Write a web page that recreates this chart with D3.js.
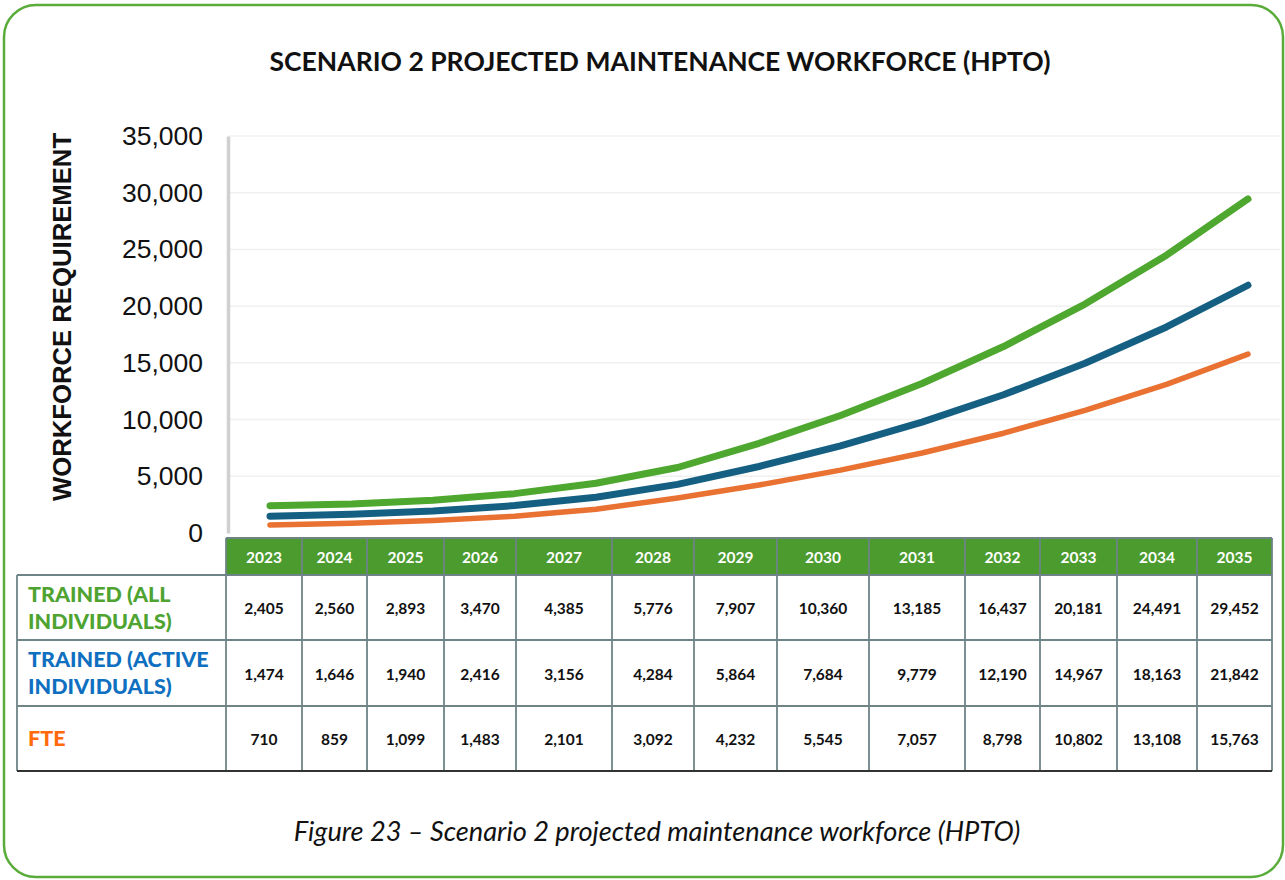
<!DOCTYPE html>
<html>
<head>
<meta charset="utf-8">
<script src="https://cdn.jsdelivr.net/npm/d3@7"></script>
<style>
  html, body { margin: 0; padding: 0; background: #fff; }
  svg { display: block; }
</style>
</head>
<body>
<div id="chart"></div>
<script>
// data
const years = [2023, 2024, 2025, 2026, 2027, 2028, 2029, 2030, 2031, 2032, 2033, 2034, 2035];
const trainedAll = [2405, 2560, 2893, 3470, 4385, 5776, 7907, 10360, 13185, 16437, 20181, 24491, 29452];
const trainedActive = [1474, 1646, 1940, 2416, 3156, 4284, 5864, 7684, 9779, 12190, 14967, 18163, 21842];
const fte = [710, 859, 1099, 1483, 2101, 3092, 4232, 5545, 7057, 8798, 10802, 13108, 15763];
const seriesNames = [["TRAINED (ALL", "INDIVIDUALS)"], ["TRAINED (ACTIVE", "INDIVIDUALS)"], ["FTE"]];
const yTicks = [0, 5000, 10000, 15000, 20000, 25000, 30000, 35000];

const width = 1285, height = 880;
const lineColors = ['#4ea72e', '#156082', '#e97132'];
const labelColors = ['#4ea331', '#0f6fc0', '#ff6a0d'];
const lineWidths = [7, 7, 5.5];

// table column edges (layout, from the picture)
const colEdges = [226, 302, 367, 444, 516, 612, 694, 777, 869, 965, 1040, 1117, 1197, 1272];
const rowEdges = [538, 575, 640, 706, 771];
const tableLeft = 17;

const svg = d3.select('#chart')
  .append('svg')
  .attr('width', width)
  .attr('height', height);

// frame
svg.append('rect')
  .attr('x', 4).attr('y', 5)
  .attr('width', 1279).attr('height', 872)
  .attr('rx', 32)
  .attr('fill', '#fff')
  .attr('stroke', '#5aac3a')
  .attr('stroke-width', 2.5);

// title
svg.append('text')
  .attr('x', 660).attr('y', 71)
  .attr('text-anchor', 'middle')
  .attr('font-family', 'Lato, sans-serif')
  .attr('font-weight', 'bold')
  .attr('font-size', '26.5px')
  .attr('fill', '#111')
  .text('SCENARIO 2 PROJECTED MAINTENANCE WORKFORCE (HPTO)');

const x = d3.scalePoint()
  .domain(years)
  .range([270, 1248]);

const y = d3.scaleLinear()
  .domain([0, 35000])
  .range([533, 136]);

// gridlines
svg.append('g')
  .selectAll('line')
  .data(yTicks.slice(1))
  .enter()
  .append('line')
  .attr('x1', 229).attr('x2', 1280)
  .attr('y1', d => y(d)).attr('y2', d => y(d))
  .attr('stroke', '#f0f0f0')
  .attr('stroke-width', 1.5);

// y axis
const yAxis = svg.append('g')
  .attr('transform', 'translate(228,0)')
  .call(d3.axisLeft(y).tickValues(yTicks).tickSize(0).tickPadding(25).tickFormat(d3.format(',')));
yAxis.select('.domain')
  .attr('stroke', '#d0d0d0')
  .attr('stroke-width', 3.5);
yAxis.selectAll('text')
  .attr('font-family', '"Liberation Sans", Arial, sans-serif')
  .attr('font-size', '26.5px')
  .attr('fill', '#111');

// y axis title
svg.append('text')
  .attr('transform', 'translate(71,317) rotate(-90)')
  .attr('text-anchor', 'middle')
  .attr('font-family', '"Liberation Sans", Arial, sans-serif')
  .attr('font-weight', 'bold')
  .attr('font-size', '25.7px')
  .attr('fill', '#111')
  .text('WORKFORCE REQUIREMENT');

// lines
const series = [trainedAll, trainedActive, fte];
const line = d3.line()
  .x((d, i) => x(years[i]))
  .y(d => y(d));

svg.append('g')
  .selectAll('path')
  .data(series)
  .enter()
  .append('path')
  .attr('d', d => line(d))
  .attr('fill', 'none')
  .attr('stroke', (d, i) => lineColors[i])
  .attr('stroke-width', (d, i) => lineWidths[i])
  .attr('stroke-linecap', 'round')
  .attr('stroke-linejoin', 'round');

// table
const table = svg.append('g');
const borderColor = '#6e8487';

// header fill
table.append('rect')
  .attr('x', colEdges[0]).attr('y', rowEdges[0])
  .attr('width', colEdges[colEdges.length - 1] - colEdges[0])
  .attr('height', rowEdges[1] - rowEdges[0])
  .attr('fill', '#4b9b2e');

// body background
table.append('rect')
  .attr('x', tableLeft).attr('y', rowEdges[1])
  .attr('width', colEdges[colEdges.length - 1] - tableLeft)
  .attr('height', rowEdges[4] - rowEdges[1])
  .attr('fill', '#fff');

// vertical lines
table.selectAll('.vline')
  .data(colEdges)
  .enter()
  .append('line')
  .attr('x1', d => d).attr('x2', d => d)
  .attr('y1', rowEdges[0]).attr('y2', rowEdges[4])
  .attr('stroke', borderColor)
  .attr('stroke-width', 1.8);
table.append('line')
  .attr('x1', tableLeft).attr('x2', tableLeft)
  .attr('y1', rowEdges[1]).attr('y2', rowEdges[4])
  .attr('stroke', borderColor)
  .attr('stroke-width', 1.8);

// horizontal lines
table.append('line')
  .attr('x1', colEdges[0]).attr('x2', colEdges[colEdges.length - 1])
  .attr('y1', rowEdges[0]).attr('y2', rowEdges[0])
  .attr('stroke', borderColor).attr('stroke-width', 1.8);
table.selectAll('.hline')
  .data(rowEdges.slice(1))
  .enter()
  .append('line')
  .attr('x1', tableLeft).attr('x2', colEdges[colEdges.length - 1])
  .attr('y1', d => d).attr('y2', d => d)
  .attr('stroke', (d, i) => i === 3 ? '#333' : borderColor)
  .attr('stroke-width', (d, i) => i === 3 ? 2 : 1.8);

// header years
table.selectAll('.year')
  .data(years)
  .enter()
  .append('text')
  .attr('x', (d, i) => (colEdges[i] + colEdges[i + 1]) / 2)
  .attr('y', (rowEdges[0] + rowEdges[1]) / 2 + 1)
  .attr('dy', '0.36em')
  .attr('text-anchor', 'middle')
  .attr('font-family', 'Lato, sans-serif')
  .attr('font-weight', 'bold')
  .attr('font-size', '15.5px')
  .attr('fill', '#fff')
  .text(d => d);

// row labels and values
const fmt = d3.format(',');
series.forEach((vals, r) => {
  const cy = (rowEdges[r + 1] + rowEdges[r + 2]) / 2;
  const names = seriesNames[r];
  names.forEach((nm, k) => {
    table.append('text')
      .attr('x', 28)
      .attr('y', cy + (k - (names.length - 1) / 2) * 27)
      .attr('dy', '0.36em')
      .attr('font-family', 'Lato, sans-serif')
      .attr('font-weight', 900)
      .attr('font-size', '21.5px')
      .attr('fill', labelColors[r])
      .text(nm);
  });
  table.selectAll('.v' + r)
    .data(vals)
    .enter()
    .append('text')
    .attr('x', (d, i) => (colEdges[i] + colEdges[i + 1]) / 2)
    .attr('y', cy + 1)
    .attr('dy', '0.36em')
    .attr('text-anchor', 'middle')
    .attr('font-family', 'Lato, sans-serif')
    .attr('font-weight', 'bold')
    .attr('font-size', '15.5px')
    .attr('fill', '#111')
    .text(d => fmt(d));
});

// caption
svg.append('text')
  .attr('x', 657).attr('y', 841)
  .attr('text-anchor', 'middle')
  .attr('font-family', 'Lato, sans-serif')
  .attr('font-style', 'italic')
  .attr('font-size', '27.2px')
  .attr('fill', '#111')
  .text('Figure 23 \u2013 Scenario 2 projected maintenance workforce (HPTO)');
</script>
</body>
</html>
